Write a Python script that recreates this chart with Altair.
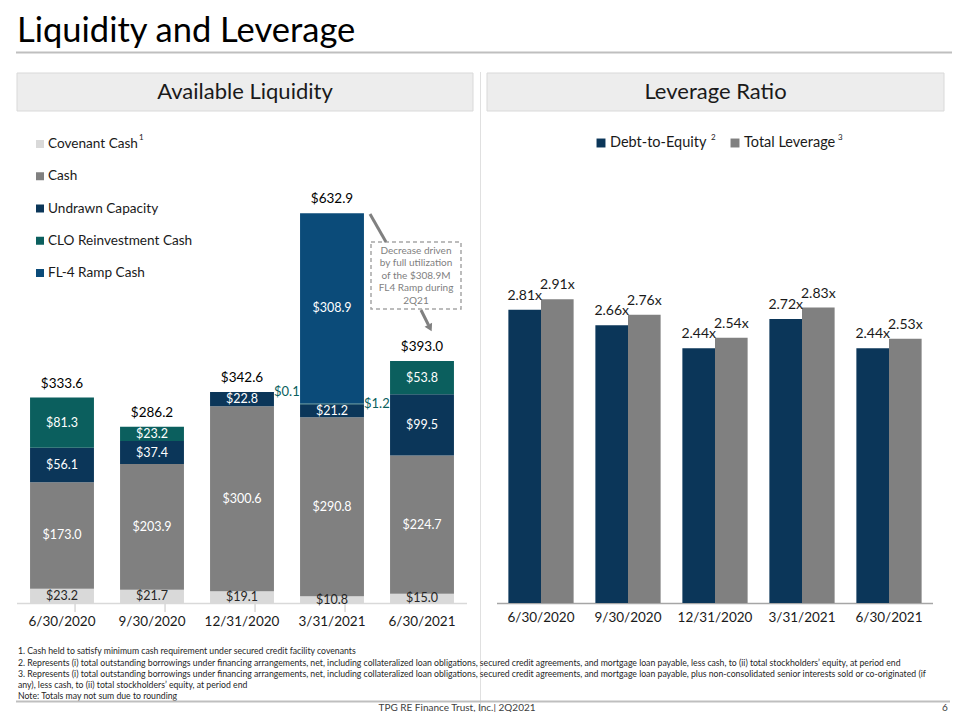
import altair as alt
import pandas as pd

# ---------------- data ----------------
dates = ["6/30/2020", "9/30/2020", "12/31/2020", "3/31/2021", "6/30/2021"]
liq_cats = ["Covenant Cash", "Cash", "Undrawn Capacity", "CLO Reinvestment Cash", "FL-4 Ramp Cash"]
covenant = [23.2, 21.7, 19.1, 10.8, 15.0]
cash = [173.0, 203.9, 300.6, 290.8, 224.7]
undrawn = [56.1, 37.4, 22.8, 21.2, 99.5]
clo = [81.3, 23.2, 0.1, 1.2, 53.8]
fl4 = [0, 0, 0, 308.9, 0]
totals = [333.6, 286.2, 342.6, 632.9, 393.0]
liq_colors = ["#D9D9D9", "#808080", "#0B3659", "#0B5F5E", "#0B4B79"]
liq_label_colors = ["#262626", "#FFFFFF", "#FFFFFF", "#FFFFFF", "#FFFFFF"]

lev_series = ["Debt-to-Equity", "Total Leverage"]
debt_to_equity = [2.81, 2.66, 2.44, 2.72, 2.44]
total_leverage = [2.91, 2.76, 2.54, 2.83, 2.53]
lev_colors = ["#0B3659", "#808080"]

footnotes = [
    "1. Cash held to satisfy minimum cash requirement under secured credit facility covenants",
    "2. Represents (i) total outstanding borrowings under financing arrangements, net, including collateralized loan obligations, secured credit agreements, and mortgage loan payable, less cash, to (ii) total stockholders\u2019 equity, at period end",
    "3. Represents (i) total outstanding borrowings under financing arrangements, net, including collateralized loan obligations, secured credit agreements, and mortgage loan payable, plus non-consolidated senior interests sold or co-originated (if",
    "any), less cash, to (ii) total stockholders\u2019 equity, at period end",
    "Note: Totals may not sum due to rounding",
]
annotation = ["Decrease driven", "by full utilization", "of the $308.9M", "FL4 Ramp during", "2Q21"]

# ---------------- helpers ----------------
O = 8  # page margin
F = "Lato"
one = pd.DataFrame({"k": [0]})


def txt(s, x, y, size, color="#000000", align="left", baseline="middle", font=F, **kw):
    return alt.Chart(one).mark_text(text=s, align=align, baseline=baseline, fontSize=size,
                                    font=font, color=color, **kw).encode(
        x=alt.value(x - O), y=alt.value(y - O))


def rule(x1, y1, x2, y2, color, w, **kw):
    return alt.Chart(one).mark_rule(color=color, strokeWidth=w, **kw).encode(
        x=alt.value(x1 - O), y=alt.value(y1 - O), x2=alt.value(x2 - O), y2=alt.value(y2 - O))


def box(x1, y1, x2, y2, **kw):
    return alt.Chart(one).mark_rect(**kw).encode(
        x=alt.value(x1 - O), y=alt.value(y1 - O), x2=alt.value(x2 - O), y2=alt.value(y2 - O))


# ---------------- left chart ----------------
rows = []
for i, (c, vals) in enumerate(zip(liq_cats, [covenant, cash, undrawn, clo, fl4])):
    for d, v in zip(dates, vals):
        rows.append({"date": d, "cat": c, "value": v, "order": i})
liq_df = pd.DataFrame(rows)
tot_df = pd.DataFrame({"date": dates, "total": totals})


def lx():
    return alt.X("date:N", sort=dates, axis=None,
                 scale=alt.Scale(domain=dates, range=[17 - O, 467 - O], paddingInner=0.29, paddingOuter=0.145))


KL = 0.6157
ly = alt.Scale(domain=[0, 700], range=[603 - O, 603 - O - KL * 700], nice=False)

left_bars = alt.Chart(liq_df).mark_bar().encode(
    x=lx(),
    y=alt.Y("value:Q", stack="zero", scale=ly, axis=None),
    color=alt.Color("cat:N", scale=alt.Scale(domain=liq_cats, range=liq_colors), legend=None),
    order=alt.Order("order:Q"),
)

seg = alt.Chart(liq_df).transform_stack(
    stack="value", groupby=["date"], sort=[alt.SortField("order")], as_=["v0", "v1"]
).transform_calculate(mid="(datum.v0 + datum.v1) / 2", label="'$' + format(datum.value, '.1f')")

seg_in = seg.transform_filter("datum.value >= 5").mark_text(font=F, fontSize=12.5, baseline="middle").encode(
    x=lx(), y=alt.Y("mid:Q", scale=ly, axis=None), text="label:N",
    color=alt.Color("cat:N", scale=alt.Scale(domain=liq_cats, range=liq_label_colors), legend=None),
)
seg_out = seg.transform_filter("datum.value > 0 && datum.value < 5").mark_text(
    font=F, fontSize=13, baseline="middle", align="left", dx=32, color="#0B5F5E").encode(
    x=lx(), y=alt.Y("mid:Q", scale=ly, axis=None), text="label:N")

tot_text = alt.Chart(tot_df).transform_calculate(label="'$' + format(datum.total, '.1f')").mark_text(
    font=F, fontSize=13.5, baseline="middle", dy=-14, color="#000000").encode(
    x=lx(), y=alt.Y("total:Q", scale=ly, axis=None), text="label:N")

left_cat = alt.Chart(tot_df).mark_text(font=F, fontSize=13.5, baseline="middle", color="#1A1A1A").encode(
    x=lx(), y=alt.value(622 - O), text="date:N")

left_ticks = alt.Chart(tot_df.iloc[:4]).mark_rule(color="#D9D9D9", strokeWidth=1.5).encode(
    x=lx(), xOffset=alt.value(45), y=alt.value(603 - O), y2=alt.value(612 - O))

left_axis = rule(17, 603.5, 467, 603.5, "#D9D9D9", 1.5)

# left legend
leg_df = pd.DataFrame({"cat": liq_cats})
leg_y = alt.Y("cat:N", sort=liq_cats, axis=None,
              scale=alt.Scale(type="point", domain=liq_cats, range=[144 - O, 273 - O], padding=0))
left_leg_sym = alt.Chart(leg_df).mark_square(size=64, opacity=1).encode(
    x=alt.value(40 - O), y=leg_y,
    color=alt.Color("cat:N", scale=alt.Scale(domain=liq_cats, range=liq_colors), legend=None))
left_leg_txt = alt.Chart(leg_df).mark_text(font=F, fontSize=13.6, align="left", baseline="middle", color="#1A1A1A").encode(
    x=alt.value(48 - O), y=leg_y, text="cat:N")

# ---------------- right chart ----------------
lrows = []
for s, vals in zip(lev_series, [debt_to_equity, total_leverage]):
    for d, v in zip(dates, vals):
        lrows.append({"date": d, "series": s, "value": v})
lev_df = pd.DataFrame(lrows)


def rx():
    return alt.X("date:N", sort=dates, axis=None,
                 scale=alt.Scale(domain=dates, range=[497.5 - O, 932.5 - O], paddingInner=0.25, paddingOuter=0.125))


def rxo():
    return alt.XOffset("series:N", sort=lev_series,
                       scale=alt.Scale(domain=lev_series, paddingInner=0, paddingOuter=0))


KR = 104.4
ry = alt.Scale(domain=[0, 3], range=[603 - O, 603 - O - KR * 3], nice=False)

right_bars = alt.Chart(lev_df).mark_bar().encode(
    x=rx(), xOffset=rxo(), y=alt.Y("value:Q", scale=ry, axis=None),
    color=alt.Color("series:N", scale=alt.Scale(domain=lev_series, range=lev_colors), legend=None))

right_lbls = []
for s, dx in zip(lev_series, [-16.3, 16.3]):
    right_lbls.append(
        alt.Chart(lev_df).transform_filter(alt.datum.series == s).transform_calculate(
            label="format(datum.value, '.2f') + 'x'").mark_text(
            font=F, fontSize=14, baseline="middle", dy=-14, dx=dx, color="#1A1A1A").encode(
            x=rx(), y=alt.Y("value:Q", scale=ry, axis=None), text="label:N"))

right_cat = alt.Chart(tot_df).mark_text(font=F, fontSize=13.5, baseline="middle", color="#1A1A1A").encode(
    x=rx(), y=alt.value(618 - O), text="date:N")

right_axis = rule(497, 603.5, 933, 603.5, "#A6A6A6", 1.5)

rleg_df = pd.DataFrame({"series": lev_series})
rleg_x = alt.X("series:N", sort=lev_series, axis=None,
               scale=alt.Scale(type="point", domain=lev_series, range=[601 - O, 735 - O], padding=0))
right_leg_sym = alt.Chart(rleg_df).mark_square(size=80, opacity=1).encode(
    x=rleg_x, y=alt.value(143 - O),
    color=alt.Color("series:N", scale=alt.Scale(domain=lev_series, range=lev_colors), legend=None))
right_leg_txt = alt.Chart(rleg_df).mark_text(font=F, fontSize=14.5, align="left", baseline="middle", dx=9,
                                              color="#1A1A1A").encode(
    x=rleg_x, y=alt.value(143 - O), text="series:N")

# ---------------- decorations ----------------
layers = [
    txt("Liquidity and Leverage", 17, 32, 34.5, color="#000000"),
    rule(16, 52.5, 952, 52.5, "#BFBFBF", 2),
    rule(480.5, 72, 480.5, 712, "#E0E0E0", 1),
    box(17, 73, 473, 111, fill="#EDEDED", stroke="#D9D9D9", strokeWidth=1),
    box(487, 73, 944, 111, fill="#EDEDED", stroke="#D9D9D9", strokeWidth=1),
    txt("Available Liquidity", 245, 92, 22, color="#1A1A1A", align="center"),
    txt("Leverage Ratio", 715.5, 92, 22, color="#1A1A1A", align="center"),
    left_axis, left_ticks,
    left_bars, seg_in, seg_out, tot_text, left_cat,
    left_leg_sym, left_leg_txt,
    txt("1", 139, 138, 8, color="#1A1A1A"),
    # annotation
    box(371, 242, 461, 309, fill="#FFFFFF", stroke="#A6A6A6", strokeWidth=1.5, strokeDash=[4, 3]),
    alt.Chart(one).mark_text(text=annotation, align="center", baseline="top", fontSize=10, lineHeight=12.6,
                             font=F, color="#7F7F7F").encode(x=alt.value(416 - O), y=alt.value(245.5 - O)),
    rule(370, 214, 386, 242, "#808080", 3),
    rule(421, 310, 428.5, 325, "#808080", 3),
    alt.Chart(one).mark_point(shape="triangle-down", size=70, filled=True, opacity=1, color="#808080",
                              angle=333).encode(x=alt.value(430 - O), y=alt.value(328 - O)),
    right_axis, right_bars, *right_lbls, right_cat, right_leg_sym, right_leg_txt,
    txt("2", 711, 138, 8, color="#1A1A1A"),
    txt("3", 838, 138, 8, color="#1A1A1A"),
]

fy = [651, 662.5, 673.5, 684.5, 695.5]
for s, y in zip(footnotes, fy):
    layers.append(txt(s, 18, y, 8.7, color="#262626"))
layers.append(rule(16, 701.5, 950, 701.5, "#BFBFBF", 2))
layers.append(txt("TPG RE Finance Trust, Inc.| 2Q2021", 457, 707.5, 10, color="#404040", align="center"))
layers.append(txt("6", 942, 707.5, 10, color="#404040"))

chart = alt.layer(*layers).resolve_scale(
    x="independent", y="independent", color="independent", xOffset="independent"
).properties(
    width=944, height=704, padding=0, autosize=alt.AutoSizeParams(type="none")
).configure_view(stroke=None)

chart.save("out.html", embed_options={"renderer": "svg", "actions": False})
